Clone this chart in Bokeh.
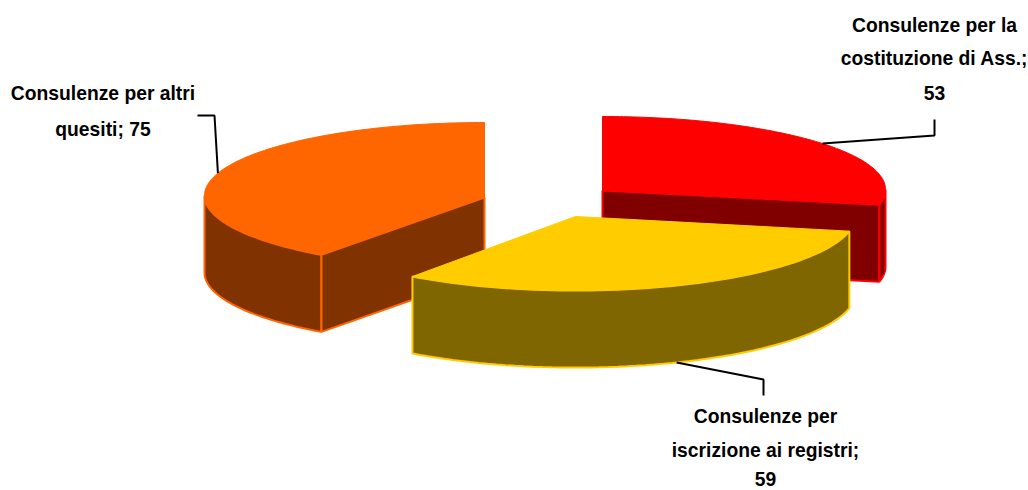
import numpy as np
from bokeh.plotting import figure
from bokeh.embed import file_html
from bokeh.resources import INLINE
from bokeh.core.properties import value

categories = ["Consulenze per la costituzione di Ass.", "Consulenze per iscrizione ai registri", "Consulenze per altri quesiti"]
values = [53, 59, 75]
top_colors = ["#FF0000", "#FFCC00", "#FF6600"]
wall_colors = ["#800000", "#806600", "#803300"]
label_lines = [["Consulenze per la", "costituzione di Ass.;", "53"],
               ["Consulenze per", "iscrizione ai registri;", "59"],
               ["Consulenze per altri", "quesiti; 75"]]

# layout (screen pixels)
W, H = 1028, 490
centers = [(602, 189), (575, 215), (484, 195)]
apexes = [(602, 190), (575, 216), (484, 197)]
RX = [283, 280, 280]
RY = [73, 75, 73]
DEPTH = 77
elbows = [[(934, 135), (934, 119)], [(763, 379), (763, 395)], [(214, 115), (197, 115)]]
label_x = [934, 765, 102.5]
label_y = [[25, 58, 92], [416, 450, 478], [93, 129]]

p = figure(width=W, height=H, x_range=(0, W), y_range=(H, 0), output_backend="svg",
           toolbar_location=None, min_border=0, outline_line_color=None, background_fill_color="white")
p.axis.visible = False
p.grid.visible = False

total = sum(values)
edges = np.cumsum([0] + values) / total * 2 * np.pi


def pt(i, a, dz=0):
    cx, cy = centers[i]
    return cx + RX[i] * np.sin(a), cy - RY[i] * np.cos(a) + dz


def slice3d(i):
    a0, a1 = edges[i], edges[i + 1]
    ax, ay = apexes[i]
    col, wall = top_colors[i], wall_colors[i]
    lw = 2
    # outer wall: the front part of the rim
    lo, hi = max(a0, np.pi / 2), min(a1, 3 * np.pi / 2)
    if hi > lo:
        t = np.linspace(lo, hi, 60)
        xt, yt = pt(i, t)
        xb, yb = pt(i, t, DEPTH)
        p.patch(np.r_[xt, xb[::-1]], np.r_[yt, yb[::-1]], fill_color=wall, line_color=col, line_width=lw)
    # cut faces that turn towards the viewer
    for a, n in ((a0, a0 - np.pi / 2), (a1, a1 + np.pi / 2)):
        if np.cos(n) < -1e-6:
            x1, y1 = pt(i, a)
            p.patch([ax, x1, x1, ax], [ay, y1, y1 + DEPTH, ay + DEPTH], fill_color=wall, line_color=col, line_width=lw)
    # top
    t = np.linspace(a0, a1, 120)
    x, y = pt(i, t)
    p.patch(np.r_[ax, x], np.r_[ay, y], fill_color=col, line_color=col, line_width=1)


for i in (0, 2, 1):
    slice3d(i)

# leader lines and labels
for i in range(3):
    mid = (edges[i] + edges[i + 1]) / 2
    dz = DEPTH if np.cos(mid) < 0 else 0
    sx, sy = pt(i, mid, dz)
    xs = [sx] + [e[0] for e in elbows[i]]
    ys = [sy] + [e[1] for e in elbows[i]]
    p.line(xs, ys, line_color="black", line_width=2)
    for line, ly in zip(label_lines[i], label_y[i]):
        p.text([label_x[i]], [ly], text=[line], text_align="center", text_baseline="middle",
               text_font=value("Liberation Sans"), text_font_style="bold", text_font_size="19.3px",
               text_color="black")

open("out.html", "w").write(file_html(p, INLINE))
